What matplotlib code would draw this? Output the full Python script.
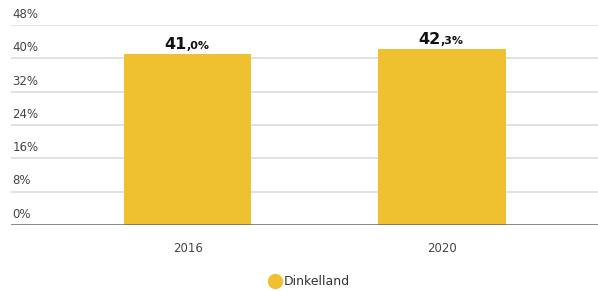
import matplotlib
matplotlib.use("Agg")
import matplotlib.pyplot as plt
from matplotlib.lines import Line2D
from matplotlib.transforms import blended_transform_factory

categories = ["2016", "2020"]
values = [41.0, 42.3]
series_name = "Dinkelland"
yticks = [0, 8, 16, 24, 32, 40, 48]
ytick_labels = ["0%", "8%", "16%", "24%", "32%", "40%", "48%"]

bar_color = "#EFC030"
grid_color = "#DCDCDC"
text_color = "#444444"

fig = plt.figure(figsize=(5.98, 2.91), dpi=100)
ax = fig.add_axes([11/598, 66/291, 587/598, 200/291])

x = list(range(len(categories)))
ax.bar(x, values, width=0.5, color=bar_color, zorder=2)
ax.set_xlim(-0.694, 1.613)
ax.set_ylim(0, 48)

for s in ax.spines.values():
    s.set_visible(False)
ax.set_yticks([])
ax.set_xticks([])

for t in yticks[1:]:
    ax.axhline(t, color=grid_color, lw=1.2, zorder=1)
ax.axhline(0, color="#666666", lw=1.8, zorder=3)

trans = blended_transform_factory(ax.transAxes, ax.transData)
for t, lab in zip(yticks, ytick_labels):
    ax.annotate(lab, xy=(0.002, t), xycoords=trans, xytext=(0, 3),
                textcoords="offset points", ha="left", va="bottom",
                fontsize=8.5, color=text_color)

for xi, cat in zip(x, categories):
    ax.annotate(cat, xy=(xi, 0), xycoords="data", xytext=(0, -12),
                textcoords="offset points", ha="center", va="top",
                fontsize=8.5, color=text_color)

renderer = fig.canvas.get_renderer()
for xi, v in zip(x, values):
    whole, dec = f"{v:.1f}".split(".")
    t1 = ax.annotate(whole, xy=(xi, v), xycoords="data", xytext=(-1, 3.5),
                     textcoords="offset points", ha="right", va="baseline",
                     fontsize=11.5, fontweight="bold", color="#111111")
    bb = t1.get_window_extent(renderer)
    base_y = ax.transData.transform((xi, v))[1] + 3.5 * fig.dpi / 72
    fig.text(bb.x1 / fig.bbox.width, base_y / fig.bbox.height, "," + dec + "%",
             ha="left", va="baseline", fontsize=8, fontweight="bold",
             color="#111111")

handle = Line2D([], [], marker="o", linestyle="none", markersize=10,
                markerfacecolor=bar_color, markeredgecolor=bar_color)
fig.legend([handle], [series_name], loc="center", bbox_to_anchor=(0.517, 0.031),
           frameon=False, fontsize=9, handletextpad=0.2, labelcolor="#333333",
           handlelength=1.0)

fig.savefig("out.png", dpi=100)
